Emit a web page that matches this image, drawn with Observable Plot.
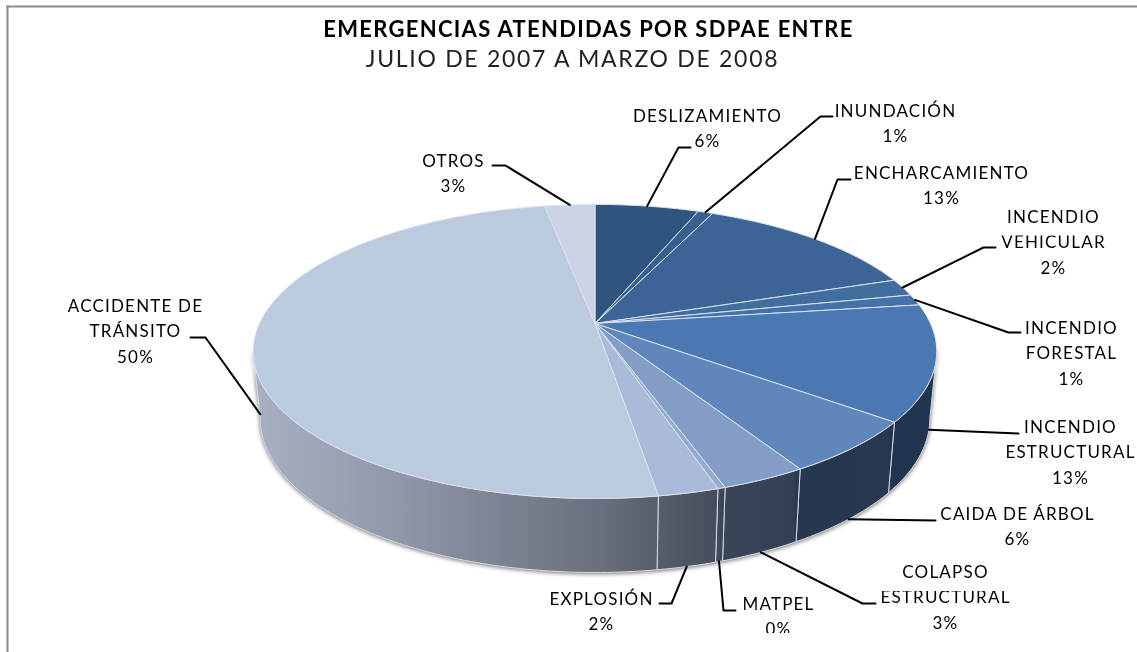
<!DOCTYPE html>
<html lang="es">
<head>
<meta charset="utf-8">
<script src="https://cdn.jsdelivr.net/npm/d3@7"></script>
<script src="https://cdn.jsdelivr.net/npm/@observablehq/plot@0.6"></script>
<style>
html,body{margin:0;padding:0;background:#fff;}
svg text{font-family:Lato,"Open Sans",sans-serif;}
svg g[font-size="17"] text{letter-spacing:1.2px;}
svg g[font-size="22"] text{letter-spacing:1.3px;}
svg g[font-size="23"] text{letter-spacing:1.7px;}
</style>
</head>
<body>
<div id="chart"></div>
<script>
// ---- data (clockwise from 12 o'clock) ----
const categories = ["DESLIZAMIENTO","INUNDACIÓN","ENCHARCAMIENTO","INCENDIO\nVEHICULAR","INCENDIO\nFORESTAL","INCENDIO\nESTRUCTURAL","CAIDA DE ÁRBOL","COLAPSO\nESTRUCTURAL","MATPEL","EXPLOSIÓN","ACCIDENTE DE\nTRÁNSITO","OTROS"];
const shares = [5.9,0.85,13,1.9,1.2,12.7,5.9,3.4,0.3,2.4,49.6,2.85];
const percentLabels = ["6%","1%","13%","2%","1%","13%","6%","3%","0%","2%","50%","3%"];
const faceColors = ["#2f5480","#38608f","#3c6496","#426d9f","#4672aa","#4a78b3","#5f87bc","#829dc6","#93abcf","#a9bbd9","#bccae0","#cbd4e5"];

// ---- layout of the call-outs ----
const labelCenterX = [707,895,941,1053,1071,1070,1017,945,778,601,135,453];
const labelFirstY  = [116,111,173,217,328,427,514,572,604,599,306,161];
const labelGap = 25.5;
const leaderOnWall = [false,false,false,false,false,true,true,true,true,true,true,false];
const leaderElbowX = [[678,690],[820,832],[837,850],[983,995],[1008,1020],[1018],[935],[862,875],[723,735],[671,659],[205,190],[505,492]];
const leaderElbowY = [[147,147],[116,116],[179,179],[247,247],[332,332],[433],[520],[603,603],[610,610],[603,603],[337,337],[165,165]];

// ---- pie geometry ----
const cx = 594.5, cy = 323, rx = 335.5, ry = 141.7, persp = 0.19;
const rim = (f) => {
  const a = 2 * Math.PI * f, u = Math.sin(a), v = -Math.cos(a), s = 1 / (1 - persp * v);
  return {x: cx + rx * u * s, y: cy + ry * v * s, v};
};
const base = (f) => {
  const p = rim(f);
  return {x: cx + (p.x - cx) * 0.98, y: p.y + 65 + 9 * p.v};
};
const total = d3.sum(shares);
let acc = 0;
const slices = categories.map((name, i) => {
  const start = acc / total; acc += shares[i];
  return {name, i, start, end: acc / total, mid: (start + acc / total) / 2, color: faceColors[i]};
});
const arc = (a, b, fn) => {
  const n = Math.max(2, Math.ceil(Math.abs(b - a) * 400));
  return d3.range(n + 1).map(k => fn(a + (b - a) * k / n));
};
const facePts = slices.flatMap(s => {
  const c = {x: cx, y: cy};
  return [c, ...arc(s.start, s.end, rim), c].map(p => ({x: p.x, y: p.y, name: s.name, color: s.color}));
});
const visA = 101 / 360, visB = 259 / 360;
const wallPts = slices.flatMap(s => {
  const a = Math.max(s.start, visA), b = Math.min(s.end, visB);
  if (b <= a) return [];
  const t = arc(a, b, rim), g = arc(b, a, base);
  return [...t, ...g, t[0]].map(p => ({x: p.x, y: p.y, name: s.name}));
});
const leaderPts = slices.flatMap((s, i) => {
  const st = leaderOnWall[i] ? base(s.mid) : rim(s.mid);
  return [st, ...leaderElbowX[i].map((x, k) => ({x, y: leaderElbowY[i][k]}))].map(p => ({x: p.x, y: p.y, name: s.name}));
});
const labelLines = slices.flatMap((s, i) => {
  const lines = [...s.name.split("\n"), percentLabels[i]];
  return lines.map((text, k) => ({text, x: labelCenterX[i], y: labelFirstY[i] + k * labelGap}));
});

const titleText = ["EMERGENCIAS ATENDIDAS POR SDPAE ENTRE"];
const subtitleText = ["JULIO DE 2007 A MARZO DE 2008"];
// slivers of the source picture where call-out text is cut off
const textCuts = [
  {x1: 1000, x2: 1110, y1: 228, y2: 235.5},
  {x1: 878, x2: 1015, y1: 585, y2: 591},
  {x1: 750, x2: 810, y1: 633, y2: 652}
];

const chart = Plot.plot({
  width: 1137, height: 652, margin: 0,
  x: {domain: [0, 1137], range: [0, 1137], axis: null},
  y: {domain: [0, 652], range: [0, 652], axis: null},
  color: {type: "identity"},
  marks: [
    Plot.line(wallPts, {x: "x", y: "y", z: "name", fill: "url(#wallGradient)", stroke: "#d6dbe4", strokeWidth: 1, imageFilter: "drop-shadow(0 1px 2px rgba(0,0,0,.55))"}),
    Plot.line(facePts, {x: "x", y: "y", z: "name", fill: "color", stroke: "#dbe2ee", strokeWidth: 1}),
    Plot.line(leaderPts, {x: "x", y: "y", z: "name", stroke: "#000", strokeWidth: 2, strokeLinejoin: "round"}),
    Plot.text(labelLines, {x: "x", y: "y", text: "text", fontSize: 17, fill: "#000", textAnchor: "middle", lineAnchor: "middle", imageFilter: "blur(0.3px)"}),
    Plot.rect(textCuts, {x1: "x1", x2: "x2", y1: "y1", y2: "y2", fill: "#fff"}),
    Plot.text(titleText, {x: 588, y: 29, text: d => d, fontSize: 22, fontWeight: "bold", fill: "#000", textAnchor: "middle", lineAnchor: "middle", imageFilter: "blur(0.3px)"}),
    Plot.text(subtitleText, {x: 572, y: 59, text: d => d, fontSize: 23, fill: "#222", textAnchor: "middle", lineAnchor: "middle", imageFilter: "blur(0.3px)"}),
    Plot.ruleX([7], {y1: 6, y2: 652, stroke: "#8c8c8c", strokeWidth: 2}),
    Plot.ruleY([6], {x1: 6, x2: 1137, stroke: "#8c8c8c", strokeWidth: 2})
  ]
});

// horizontal shading of the pie's wall
const stops = [[252,"#a8b0c4"],[400,"#8f97a8"],[500,"#7d8392"],[600,"#696f7d"],[660,"#565c6a"],[716,"#474d5c"],[722,"#3a4558"],[792,"#333f55"],[798,"#27374f"],[886,"#273850"],[892,"#1f3550"],[936,"#1e344f"]];
const defs = d3.select(chart).insert("defs", ":first-child");
const grad = defs.append("linearGradient").attr("id", "wallGradient").attr("gradientUnits", "userSpaceOnUse")
  .attr("x1", 252).attr("x2", 936).attr("y1", 0).attr("y2", 0);
stops.forEach(([x, c]) => grad.append("stop").attr("offset", (x - 252) / 684).attr("stop-color", c));

document.getElementById("chart").append(chart);
</script>
</body>
</html>
